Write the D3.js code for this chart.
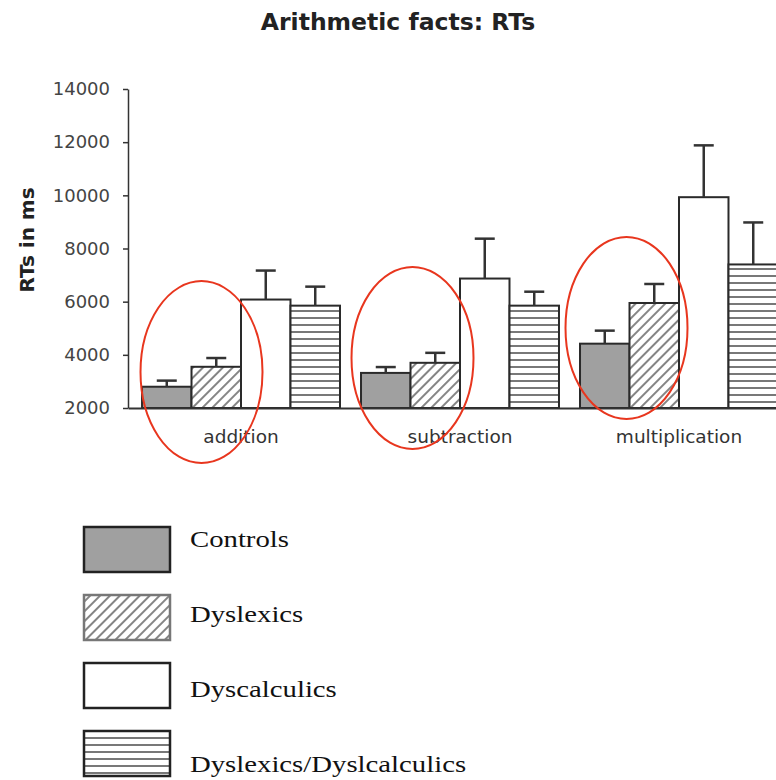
<!DOCTYPE html>
<html>
<head>
<meta charset="utf-8">
<script src="https://cdn.jsdelivr.net/npm/d3@7"></script>
<style>
  body { margin: 0; background: #fff; }
</style>
</head>
<body>
<div id="container"></div>
<script>
// categories and series
var categories = ["addition", "subtraction", "multiplication"];
var seriesNames = ["Controls", "Dyslexics", "Dyscalculics", "Dyslexics/Dyslcalculics"];

// mean RTs (ms) per series, one value per category
var controls = [2800, 3320, 4420];
var dyslexics = [3550, 3700, 5950];
var dyscalculics = [6080, 6870, 9930];
var dyslDyscalc = [5850, 5850, 7400];

// upper error bars (ms)
var controlsErr = [230, 220, 490];
var dyslexicsErr = [330, 375, 715];
var dyscalculicsErr = [1090, 1500, 1950];
var dyslDyscalcErr = [715, 525, 1580];

// centre of the hand drawn red ellipses (ms) and their sideways shift (px)
var circledCenters = [3350, 3880, 5010];
var circledShift = [10, 2, -3];

var yTicks = [2000, 4000, 6000, 8000, 10000, 12000, 14000];

var seriesValues = [controls, dyslexics, dyscalculics, dyslDyscalc];
var seriesErrors = [controlsErr, dyslexicsErr, dyscalculicsErr, dyslDyscalcErr];

var width = 776, height = 780;

var svg = d3.select("#container").append("svg")
  .attr("width", width)
  .attr("height", height)
  .style("font-family", "'DejaVu Sans', sans-serif");

// patterns
var defs = svg.append("defs");
var hatch = defs.append("pattern")
  .attr("id", "hatch")
  .attr("patternUnits", "userSpaceOnUse")
  .attr("width", 7).attr("height", 7)
  .attr("patternTransform", "rotate(45)");
hatch.append("rect").attr("width", 7).attr("height", 7).attr("fill", "#fff");
hatch.append("line").attr("x1", 2).attr("x2", 2).attr("y1", 0).attr("y2", 7)
  .attr("stroke", "#666").attr("stroke-width", 1.6);

var stripes = defs.append("pattern")
  .attr("id", "stripes")
  .attr("patternUnits", "userSpaceOnUse")
  .attr("width", 8).attr("height", 7);
stripes.append("rect").attr("width", 8).attr("height", 7).attr("fill", "#fff");
stripes.append("line").attr("x1", 0).attr("x2", 8).attr("y1", 3).attr("y2", 3)
  .attr("stroke", "#555").attr("stroke-width", 1.6);

var fills = ["#a0a0a0", "url(#hatch)", "#ffffff", "url(#stripes)"];

// scales
var x0 = d3.scaleBand().domain(categories).range([128, 792])
  .paddingInner(0.096).paddingOuter(0.064);
var x1 = d3.scaleBand().domain(seriesNames).range([0, x0.bandwidth()]);
var y = d3.scaleLinear().domain([2000, 14000]).range([408, 89]);

// title
svg.append("text")
  .attr("x", 398).attr("y", 30)
  .attr("text-anchor", "middle")
  .style("font-weight", "bold")
  .style("font-size", "23.5px")
  .attr("fill", "#222")
  .text("Arithmetic facts: RTs");

// y axis label
svg.append("text")
  .attr("transform", "translate(34,240) rotate(-90)")
  .attr("text-anchor", "middle")
  .style("font-weight", "bold")
  .style("font-size", "20px")
  .attr("fill", "#222")
  .text("RTs in ms");

// bars
var groups = svg.append("g").selectAll("g")
  .data(categories)
  .enter().append("g")
  .attr("transform", function(d) { return "translate(" + x0(d) + ",0)"; });

groups.selectAll("rect")
  .data(function(d, i) {
    return seriesNames.map(function(s, j) {
      return {key: s, idx: j, value: seriesValues[j][i], err: seriesErrors[j][i]};
    });
  })
  .enter().append("rect")
  .attr("x", function(d) { return x1(d.key); })
  .attr("y", function(d) { return y(d.value); })
  .attr("width", x1.bandwidth())
  .attr("height", function(d) { return y(2000) - y(d.value); })
  .attr("fill", function(d) { return fills[d.idx]; })
  .attr("stroke", "#2a2a2a")
  .attr("stroke-width", 2);

// error bars (upper only)
var eb = groups.selectAll("g.err")
  .data(function(d, i) {
    return seriesNames.map(function(s, j) {
      return {key: s, value: seriesValues[j][i], err: seriesErrors[j][i]};
    });
  })
  .enter().append("g").attr("class", "err");

eb.append("line")
  .attr("x1", function(d) { return x1(d.key) + x1.bandwidth() / 2; })
  .attr("x2", function(d) { return x1(d.key) + x1.bandwidth() / 2; })
  .attr("y1", function(d) { return y(d.value); })
  .attr("y2", function(d) { return y(d.value + d.err); })
  .attr("stroke", "#333").attr("stroke-width", 2.5);

eb.append("line")
  .attr("x1", function(d) { return x1(d.key) + x1.bandwidth() / 2 - 10; })
  .attr("x2", function(d) { return x1(d.key) + x1.bandwidth() / 2 + 10; })
  .attr("y1", function(d) { return y(d.value + d.err); })
  .attr("y2", function(d) { return y(d.value + d.err); })
  .attr("stroke", "#333").attr("stroke-width", 2.5);

// y axis
var yAxis = svg.append("g")
  .attr("transform", "translate(128,0)")
  .call(d3.axisLeft(y).tickValues(yTicks).tickFormat(d3.format("d"))
    .tickSize(5).tickSizeOuter(0).tickPadding(13));
yAxis.selectAll("text").style("font-size", "18px").attr("fill", "#444")
  .style("font-family", "'DejaVu Sans', sans-serif");
yAxis.selectAll("line, path").attr("stroke", "#333").attr("stroke-width", 1.5);

// x axis
var xAxis = svg.append("g")
  .attr("transform", "translate(0," + y(2000) + ")")
  .call(d3.axisBottom(x0).tickSize(0).tickPadding(22));
xAxis.selectAll("text").style("font-size", "18.5px").attr("fill", "#333")
  .style("font-family", "'DejaVu Sans', sans-serif");
xAxis.select(".domain").attr("stroke", "#333").attr("stroke-width", 2);

// red annotation ellipses around controls/dyslexics pairs
svg.append("g").selectAll("ellipse")
  .data(categories)
  .enter().append("ellipse")
  .attr("cx", function(d, i) { return x0(d) + x1(seriesNames[1]) + circledShift[i]; })
  .attr("cy", function(d, i) { return y(circledCenters[i]); })
  .attr("rx", 61).attr("ry", 91)
  .attr("fill", "none")
  .attr("stroke", "#e8361e")
  .attr("stroke-width", 2);

// legend
var legend = svg.append("g").selectAll("g")
  .data(seriesNames)
  .enter().append("g");

legend.append("rect")
  .attr("x", 84)
  .attr("y", function(d, i) { return 527 + i * 68; })
  .attr("width", 86).attr("height", 45)
  .attr("fill", function(d, i) { return fills[i]; })
  .attr("stroke", function(d, i) { return i == 1 ? "#777" : "#222"; })
  .attr("stroke-width", 2.5);

legend.append("text")
  .attr("transform", function(d, i) { return "translate(190," + (547 + i * 75) + ") scale(1.25,1)"; })
  .style("font-family", "'Liberation Serif', 'Times New Roman', serif")
  .style("font-size", "23px")
  .attr("fill", "#111")
  .text(function(d) { return d; });
</script>
</body>
</html>
